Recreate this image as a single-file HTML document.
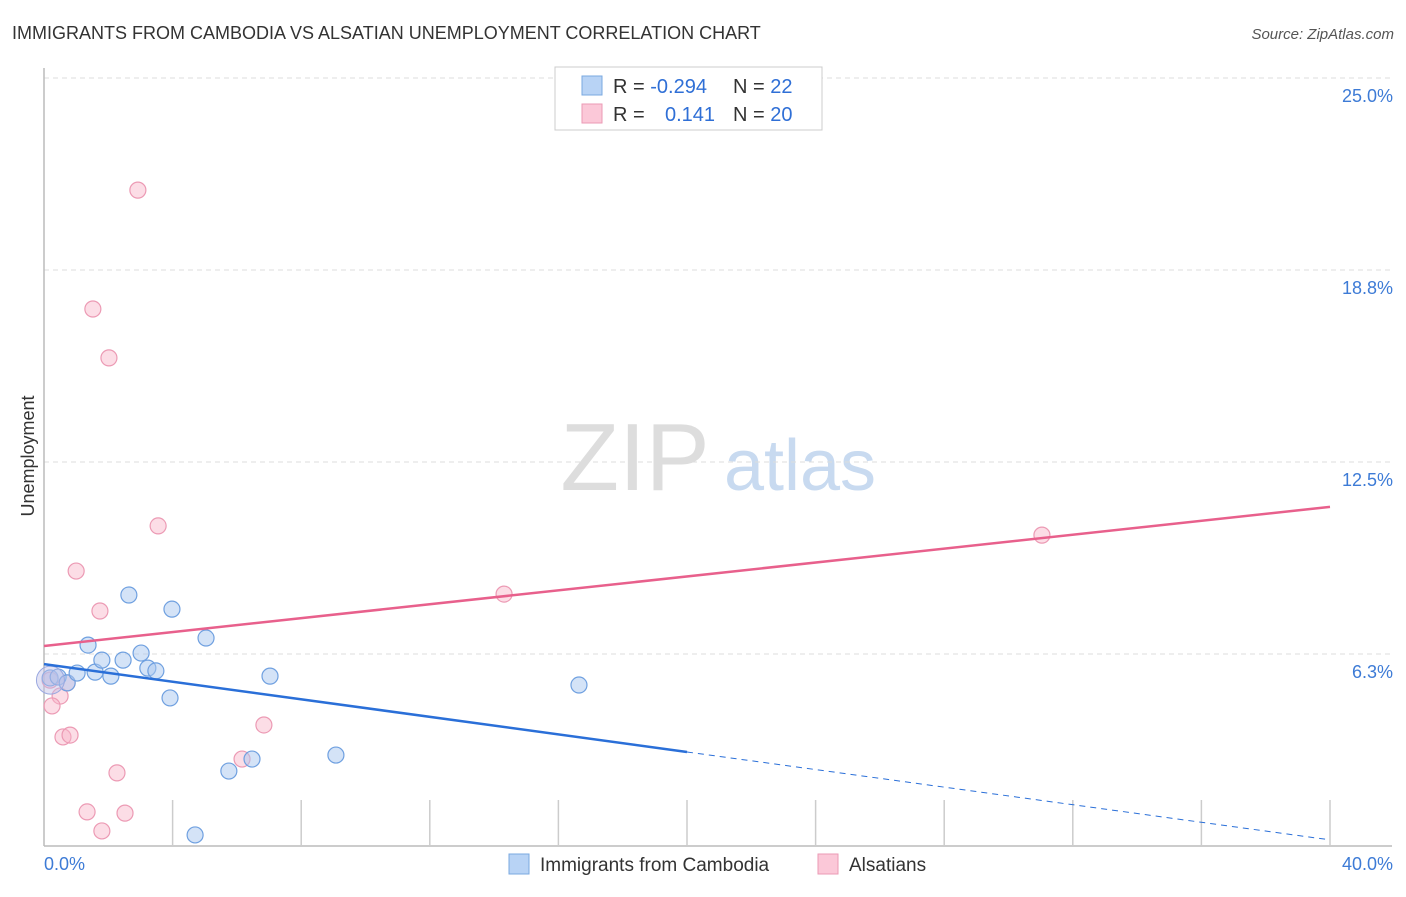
<!DOCTYPE html>
<html><head><meta charset="utf-8"><style>
body{margin:0;background:#fff;font-family:"Liberation Sans",sans-serif;}
svg text{font-family:"Liberation Sans",sans-serif;}
</style></head><body>
<svg id="c" width="1406" height="892">
<text x="12" y="39" font-size="18" fill="#333">IMMIGRANTS FROM CAMBODIA VS ALSATIAN UNEMPLOYMENT CORRELATION CHART</text>
<text x="1394" y="39" font-size="15" fill="#555" font-style="italic" text-anchor="end">Source: ZipAtlas.com</text>
<text x="34" y="456" font-size="18" fill="#333" text-anchor="middle" transform="rotate(-90 34 456)">Unemployment</text>
<g><text x="635" y="490" font-size="96" fill="#ddd" font-family="Liberation Serif" text-anchor="middle">ZIP</text><text x="800" y="490" font-size="72" fill="#c8daf0" text-anchor="middle">atlas</text></g>
<g id="grid"></g><g id="marks"></g>
<g>
<rect x="555" y="67" width="267" height="63" fill="#fff" stroke="#ccc"/>
<rect x="582" y="76" width="20" height="19" fill="#b8d3f5" stroke="#7aa8e0"/>
<rect x="582" y="104" width="20" height="19" fill="#fbc8d8" stroke="#eb9ab5"/>
<text x="613" y="93" font-size="20" fill="#333">R = <tspan fill="#2f6fd6">-0.294</tspan></text>
<text x="733" y="93" font-size="20" fill="#333">N = <tspan fill="#2f6fd6">22</tspan></text>
<text x="613" y="121" font-size="20" fill="#333">R = <tspan x="665" fill="#2f6fd6">0.141</tspan></text>
<text x="733" y="121" font-size="20" fill="#333">N = <tspan fill="#2f6fd6">20</tspan></text>
</g>
<g>
<rect x="509" y="854" width="20" height="20" fill="#b8d3f5" stroke="#7aa8e0"/>
<text x="540" y="871" font-size="19" fill="#333">Immigrants from Cambodia</text>
<rect x="818" y="854" width="20" height="20" fill="#fbc8d8" stroke="#eb9ab5"/>
<text x="849" y="871" font-size="19" fill="#333">Alsatians</text>
</g>
</svg>
<script>
const yTicks=[6.25,12.5,18.75,25];
const yTickLabels=["6.3%","12.5%","18.8%","25.0%"];
const xTickCount=10;
const blueX=[0.19,0.44,0.72,1.03,1.37,1.59,1.80,2.08,2.46,2.64,3.02,3.23,3.48,3.92,3.98,5.04,5.75,6.47,7.03,9.08,16.64,4.70];
const blueY=[5.47,5.50,5.31,5.63,6.54,5.66,6.05,5.53,6.05,8.17,6.28,5.79,5.70,4.82,7.71,6.77,2.44,2.83,5.53,2.96,5.24,0.36];
const pinkX=[2.92,1.52,2.02,3.55,1.00,1.74,0.50,0.25,0.59,0.81,2.27,1.34,2.52,1.80,6.16,6.84,14.31,31.04,0.19,0.72];
const pinkY=[21.35,17.48,15.89,10.42,8.95,7.65,4.88,4.56,3.55,3.61,2.38,1.11,1.07,0.49,2.83,3.94,8.20,10.12,5.40,5.31];
const blueTrend=[5.92,0.2];
const pinkTrend=[6.51,11.04];
const NS="http://www.w3.org/2000/svg";
const X=v=>44+v/40*1286, Y=v=>846-v/6.25*192;
function mk(t,a,p){const e=document.createElementNS(NS,t);for(const k in a)e.setAttribute(k,a[k]);p.appendChild(e);return e;}
const g=document.getElementById('grid'), m=document.getElementById('marks');
yTicks.forEach((v,i)=>{
 const l=mk('line',{x1:44,x2:1392,y1:Y(v),y2:Y(v),stroke:'#ddd','stroke-dasharray':'5,4'},g);
 
 
 const t=mk('text',{x:1393,y:Y(v)+24,'font-size':18,fill:'#3d7bd6','text-anchor':'end'},g);t.textContent=yTickLabels[i];
 
 
});
const ax=mk('line',{x1:44,x2:44,y1:68,y2:846,stroke:'#bbb','stroke-width':1.5},g);


const bx=mk('line',{x1:44,x2:1392,y1:846,y2:846,stroke:'#bbb','stroke-width':1.5},g);


for(let i=1;i<=xTickCount;i++){const v=40*i/xTickCount;const t=mk('line',{x1:X(v),x2:X(v),y1:800,y2:846,stroke:'#ccc','stroke-width':1.5},g);
 
 }
const xl0=mk('text',{x:44,y:870,'font-size':18,fill:'#3d7bd6'},g);xl0.textContent='0.0%';


const xl1=mk('text',{x:1393,y:870,'font-size':18,fill:'#3d7bd6','text-anchor':'end'},g);xl1.textContent='40.0%';


pinkX.forEach((v,i)=>{const c=mk('circle',{cx:X(v),cy:Y(pinkY[i]),r:8,fill:'rgba(248,180,200,0.45)',stroke:'#ec9ab4','stroke-width':1.2},m);
 
 });
blueX.forEach((v,i)=>{const c=mk('circle',{cx:X(v),cy:Y(blueY[i]),r:8,fill:'rgba(170,200,240,0.5)',stroke:'#6fa0e0','stroke-width':1.2},m);
 
 });
const big=mk('circle',{cx:X(0.2),cy:Y(5.4),r:14,fill:'rgba(190,190,230,0.45)',stroke:'#9aa8e0'},m);


const pt=mk('line',{x1:X(0),y1:Y(pinkTrend[0]),x2:X(40),y2:Y(pinkTrend[1]),stroke:'#e8608c','stroke-width':2.5},m);


const bmid=blueTrend[0]+(blueTrend[1]-blueTrend[0])*0.5;
const bt=mk('line',{x1:X(0),y1:Y(blueTrend[0]),x2:X(20),y2:Y(bmid),stroke:'#2a6fd8','stroke-width':2.5},m);


const bd=mk('line',{x1:X(20),y1:Y(bmid),x2:X(40),y2:Y(blueTrend[1]),stroke:'#2a6fd8','stroke-width':1,'stroke-dasharray':'6,5'},m);


</script>
</body></html>
